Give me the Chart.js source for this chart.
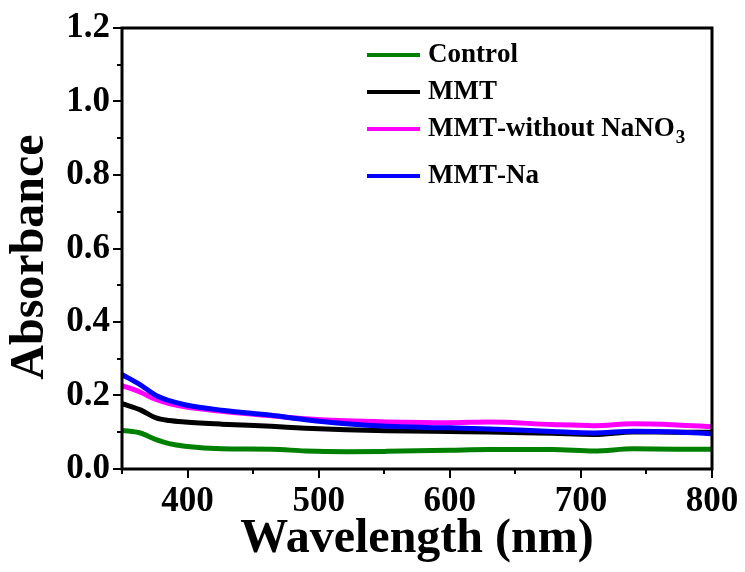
<!DOCTYPE html>
<html>
<head>
<meta charset="utf-8">
<script src="https://cdn.jsdelivr.net/npm/chart.js@4.4.1/dist/chart.umd.min.js"></script>
<style>
html,body{margin:0;padding:0;background:#fff;}
#wrap{width:745px;height:572px;position:relative;}
</style>
</head>
<body>
<div id="wrap"><canvas id="c" width="745" height="572"></canvas></div>
<script>
// Data
const wavelengths = [350,364,376,386,398,426,464,490,521,552,600,630,678,710,740,773,800];
const controlVals = [0.105,0.098,0.080,0.069,0.062,0.055,0.054,0.049,0.047,0.048,0.051,0.053,0.053,0.049,0.055,0.054,0.054];
const mmtVals     = [0.178,0.161,0.139,0.132,0.128,0.122,0.116,0.111,0.107,0.104,0.102,0.101,0.097,0.094,0.101,0.100,0.100];
const mmtNoNaVals = [0.227,0.209,0.189,0.178,0.169,0.157,0.145,0.137,0.131,0.128,0.126,0.128,0.121,0.118,0.123,0.120,0.115];
const mmtNaVals   = [0.257,0.229,0.200,0.186,0.175,0.160,0.146,0.134,0.123,0.116,0.112,0.109,0.102,0.098,0.103,0.101,0.096];
const seriesLabels = ['Control','MMT','MMT-without NaNO\u2083','MMT-Na'];
const seriesColors = ['#008000','#000000','#ff00ff','#0000ff'];
const xTickLabels = [400,500,600,700,800];
const yTickLabels = ['0.0','0.2','0.4','0.6','0.8','1.0','1.2'];
const xTitle = 'Wavelength (nm)';
const yTitle = 'Absorbance';

const FONT = '"Liberation Serif","Times New Roman",serif';
const allVals = [controlVals, mmtVals, mmtNoNaVals, mmtNaVals];

const datasets = allVals.map((vals, i) => ({
  label: seriesLabels[i],
  data: wavelengths.map((w, j) => ({x: w, y: vals[j]})),
  borderColor: seriesColors[i],
  backgroundColor: seriesColors[i],
  borderWidth: 5,
  pointRadius: 0,
  cubicInterpolationMode: 'monotone',
  fill: false,
  order: 4 - i
}));

const frameAndTicks = {
  id: 'frameAndTicks',
  afterDatasetsDraw(chart) {
    const ctx = chart.ctx;
    const xs = chart.scales.x, ys = chart.scales.y;
    const a = chart.chartArea;
    ctx.save();
    ctx.strokeStyle = '#000';
    ctx.lineWidth = 3;
    ctx.lineCap = 'square';
    ctx.beginPath();
    ctx.moveTo(a.left, a.top); ctx.lineTo(a.right, a.top); ctx.lineTo(a.right, a.bottom);
    ctx.lineTo(a.left, a.bottom); ctx.closePath();
    ctx.stroke();
    ctx.lineWidth = 2;
    ctx.lineCap = 'butt';
    for (let k = 0; k <= 12; k++) {
      const py = Math.round(ys.getPixelForValue(k / 10));
      const len = (k % 2 === 0) ? 9 : 5;
      ctx.beginPath(); ctx.moveTo(a.left, py); ctx.lineTo(a.left - len, py); ctx.stroke();
    }
    for (let w = 350; w <= 800; w += 50) {
      const px = Math.round(xs.getPixelForValue(w));
      const len = (w % 100 === 0) ? 9 : 5;
      ctx.beginPath(); ctx.moveTo(px, a.bottom); ctx.lineTo(px, a.bottom + len); ctx.stroke();
    }
    // y axis title
    ctx.save();
    ctx.translate(31, 257);
    ctx.rotate(-Math.PI / 2);
    ctx.fillStyle = '#000';
    ctx.font = 'bold 48px ' + FONT;
    ctx.textAlign = 'center';
    ctx.textBaseline = 'middle';
    ctx.fillText(yTitle, 0, 0);
    ctx.restore();
    ctx.restore();
  }
};

const customLegend = {
  id: 'customLegend',
  afterDraw(chart) {
    const ctx = chart.ctx;
    ctx.save();
    const lineX0 = 367, lineX1 = 420, textX = 428;
    let y = 55;
    chart.data.datasets.forEach((ds) => {
      ctx.strokeStyle = ds.borderColor;
      ctx.lineWidth = 4;
      ctx.beginPath(); ctx.moveTo(lineX0, y); ctx.lineTo(lineX1, y); ctx.stroke();
      ctx.fillStyle = '#000';
      ctx.textBaseline = 'middle';
      ctx.textAlign = 'left';
      let x = textX;
      let hasSub = false;
      for (const ch of ds.label) {
        if (ch === '\u2083') {
          ctx.font = 'bold 19px ' + FONT;
          ctx.fillText('3', x + 1, y + 9);
          x += ctx.measureText('3').width + 1;
          hasSub = true;
        } else {
          ctx.font = 'bold 27px ' + FONT;
          ctx.fillText(ch, x, y);
          x += ctx.measureText(ch).width;
        }
      }
      y += hasSub ? 47 : 37;
    });
    ctx.restore();
  }
};

new Chart(document.getElementById('c'), {
  type: 'line',
  data: { datasets },
  options: {
    responsive: false,
    animation: false,
    devicePixelRatio: 1,
    layout: { padding: { top: 28, right: 33, left: 0, bottom: 0 } },
    plugins: { legend: { display: false }, tooltip: { enabled: false } },
    scales: {
      x: {
        type: 'linear',
        min: 350, max: 800,
        grid: { display: false, drawTicks: false },
        border: { display: false },
        ticks: {
          stepSize: 50,
          padding: 12,
          color: '#000',
          font: { family: FONT, size: 35, weight: 'bold' },
          maxRotation: 0,
          autoSkip: false,
          callback: (v) => xTickLabels.includes(v) ? String(v) : ''
        },
        title: {
          display: true, text: xTitle, color: '#000',
          font: { family: FONT, size: 48, weight: 'bold' },
          padding: { top: 0, bottom: 4 }
        },
        afterFit: (s) => { s.height = 103; s.paddingLeft = 0; s.paddingRight = 0; }
      },
      y: {
        min: 0, max: 1.2,
        grid: { display: false, drawTicks: false },
        border: { display: false },
        ticks: {
          stepSize: 0.1,
          padding: 12,
          color: '#000',
          font: { family: FONT, size: 35, weight: 'bold' },
          autoSkip: false,
          callback: (v) => {
            const s = v.toFixed(1);
            return yTickLabels.includes(s) && Math.abs(Math.round(v * 10) % 2) === 0 ? s : '';
          }
        },
        title: { display: false, text: yTitle },
        afterFit: (s) => { s.width = 122; s.paddingTop = 0; s.paddingBottom = 0; }
      }
    }
  },
  plugins: [frameAndTicks, customLegend]
});
</script>
</body>
</html>
